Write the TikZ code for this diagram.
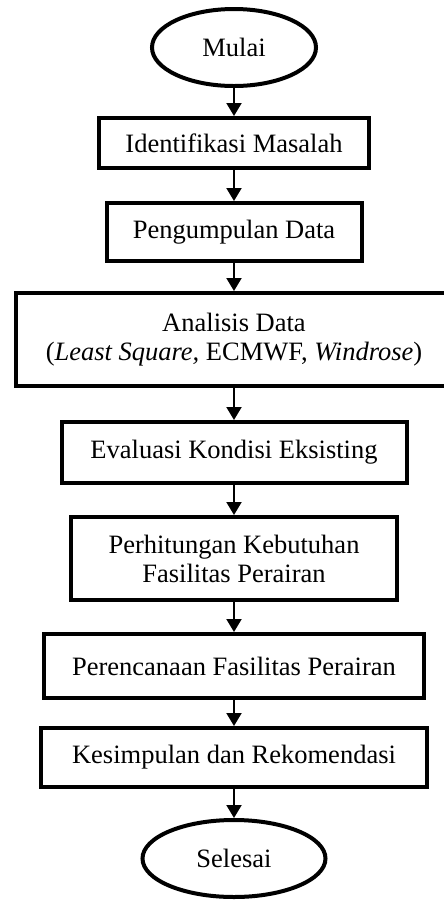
\documentclass[tikz,border=0pt]{standalone}
\usepackage{fontspec}
\setmainfont{Liberation Serif}
\usepackage{tikz}
\usetikzlibrary{shapes.geometric,arrows.meta}

\tikzset{
	proses/.style={draw, line width=2pt, rectangle, align=center, inner sep=2pt,
		font=\fontsize{13.25}{14.5}\selectfont},
	terminal/.style={draw, line width=2pt, ellipse, inner sep=0pt,
		font=\fontsize{13.25}{14.5}\selectfont},
	panah/.style={line width=1pt, -{Triangle[length=6.5pt,width=7.5pt]}}
}

\begin{document}
\begin{tikzpicture}[x=0.5pt,y=-0.5pt]
		\useasboundingbox (0,0) rectangle (444,901);

		% Start.
		\node[terminal, minimum width=82pt, minimum height=38.5pt] (mulai) at (234,47.5) {Mulai};

		% Steps.
		\node[proses, minimum width=135pt, minimum height=25pt] (identifikasi) at (234,143) {Identifikasi Masalah};
		\node[proses, minimum width=127.5pt, minimum height=29pt] (pengumpulan) at (234,232) {Pengumpulan Data};
		\node[proses, minimum width=218pt, minimum height=46.5pt] (analisis) at (234,339.5)
			{Analisis Data\\(\textit{Least Square,} ECMWF, \textit{Windrose})};
		\node[proses, minimum width=172.5pt, minimum height=30.5pt] (evaluasi) at (234,452.5) {Evaluasi Kondisi Eksisting};
		\node[proses, minimum width=163pt, minimum height=41.5pt] (perhitungan) at (234,558.5)
			{Perhitungan Kebutuhan\\Fasilitas Perairan};
		\node[proses, minimum width=190pt, minimum height=32pt] (perencanaan) at (234,666) {Perencanaan Fasilitas Perairan};
		\node[proses, minimum width=193pt, minimum height=29.5pt] (kesimpulan) at (234,757.5) {Kesimpulan dan Rekomendasi};

		% End.
		\node[terminal, minimum width=91.5pt, minimum height=38.5pt] (selesai) at (234,858.5) {Selesai};

		% Arrows.
		\draw[panah] (mulai) -- (identifikasi);
		\draw[panah] (identifikasi) -- (pengumpulan);
		\draw[panah] (pengumpulan) -- (analisis);
		\draw[panah] (analisis) -- (evaluasi);
		\draw[panah] (evaluasi) -- (perhitungan);
		\draw[panah] (perhitungan) -- (perencanaan);
		\draw[panah] (perencanaan) -- (kesimpulan);
		\draw[panah] (kesimpulan) -- (selesai);

	\end{tikzpicture}
\end{document}
